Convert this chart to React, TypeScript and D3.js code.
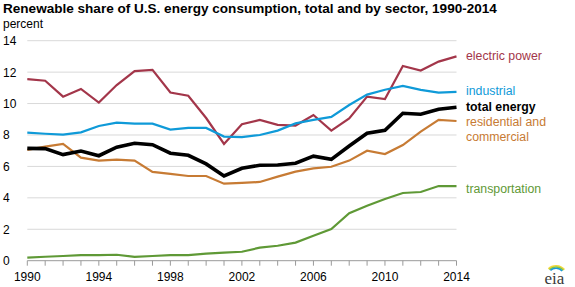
import React, { useEffect, useRef } from "react";
import * as d3 from "d3";

const WIDTH = 575;
const HEIGHT = 287;

const years = d3.range(1990, 2015);
const yTicks = [0, 2, 4, 6, 8, 10, 12, 14];
const xTickLabels = [1990, 1994, 1998, 2002, 2006, 2010, 2014];

const electricPower = [11.55, 11.45, 10.44, 10.93, 10.06, 11.18, 12.07, 12.14, 10.7, 10.5, 9.08, 7.43, 8.68, 8.96, 8.64, 8.6, 9.27, 8.28, 9.06, 10.44, 10.29, 12.39, 12.1, 12.67, 13.0];
const industrial = [8.15, 8.08, 8.02, 8.17, 8.57, 8.78, 8.72, 8.72, 8.34, 8.45, 8.45, 7.9, 7.87, 8.0, 8.28, 8.74, 8.96, 9.15, 9.91, 10.57, 10.88, 11.12, 10.87, 10.7, 10.74];
const totalEnergy = [7.15, 7.13, 6.75, 6.98, 6.68, 7.22, 7.47, 7.38, 6.84, 6.71, 6.16, 5.39, 5.88, 6.07, 6.09, 6.2, 6.65, 6.45, 7.3, 8.11, 8.3, 9.38, 9.32, 9.64, 9.76];
const residential = [7.05, 7.26, 7.43, 6.56, 6.37, 6.43, 6.37, 5.65, 5.52, 5.39, 5.39, 4.9, 4.95, 5.01, 5.35, 5.67, 5.88, 5.98, 6.37, 7.0, 6.79, 7.36, 8.21, 8.96, 8.89];
const transportation = [0.2, 0.25, 0.3, 0.36, 0.36, 0.38, 0.24, 0.3, 0.36, 0.36, 0.45, 0.51, 0.57, 0.83, 0.95, 1.15, 1.59, 2.02, 3.02, 3.5, 3.93, 4.31, 4.37, 4.75, 4.75];

const series = [
  { name: "electric power", values: electricPower, color: "#a3364a", width: 2.2 },
  { name: "industrial", values: industrial, color: "#0f9ad8", width: 2.2 },
  { name: "residential", values: residential, color: "#c77b34", width: 2.2 },
  { name: "transportation", values: transportation, color: "#5f9936", width: 2.2 },
  { name: "total energy", values: totalEnergy, color: "#000000", width: 3.6 },
];

const labels = [
  { lines: ["electric power"], y: 55, color: "#a3364a", bold: false },
  { lines: ["industrial"], y: 90, color: "#0f9ad8", bold: false },
  { lines: ["total energy"], y: 106, color: "#000000", bold: true },
  { lines: ["residential and", "commercial"], y: 121, color: "#c77b34", bold: false },
  { lines: ["transportation"], y: 188, color: "#5f9936", bold: false },
];

const FONT = "'Liberation Sans', Arial, sans-serif";

export default function App() {
  const ref = useRef<SVGSVGElement>(null);

  useEffect(() => {
    const svg = d3.select(ref.current);
    svg.selectAll("*").remove();

    const x = d3.scaleLinear().domain([1990, 2014]).range([27.3, 456.5]);
    const y = d3.scaleLinear().domain([0, 14]).range([260.7, 40.7]);

    svg.append("text")
      .attr("x", 3).attr("y", 13)
      .attr("font-family", FONT).attr("font-size", 13.55).attr("font-weight", "bold")
      .attr("fill", "#000")
      .text("Renewable share of U.S. energy consumption, total and by sector, 1990-2014");

    svg.append("text")
      .attr("x", 3).attr("y", 28)
      .attr("font-family", FONT).attr("font-size", 12).attr("fill", "#000")
      .text("percent");

    // gridlines
    svg.append("g").selectAll("line")
      .data(yTicks.filter((d) => d > 0))
      .join("line")
      .attr("x1", x(1990)).attr("x2", x(2014))
      .attr("y1", (d) => y(d)).attr("y2", (d) => y(d))
      .attr("stroke", "#d9d9d9").attr("stroke-width", 1);

    svg.append("g").selectAll("text")
      .data(yTicks)
      .join("text")
      .attr("x", 3).attr("y", (d) => y(d) + 4.5)
      .attr("font-family", FONT).attr("font-size", 12).attr("fill", "#000")
      .text((d) => d);

    // x axis
    const ax = svg.append("g");
    ax.append("line")
      .attr("x1", x(1990)).attr("x2", x(2014))
      .attr("y1", y(0)).attr("y2", y(0))
      .attr("stroke", "#9a9a9a").attr("stroke-width", 1);
    ax.selectAll("line.tick")
      .data(years)
      .join("line")
      .attr("class", "tick")
      .attr("x1", (d) => x(d)).attr("x2", (d) => x(d))
      .attr("y1", y(0)).attr("y2", y(0) + 5)
      .attr("stroke", "#9a9a9a").attr("stroke-width", 1);
    ax.selectAll("text")
      .data(xTickLabels)
      .join("text")
      .attr("x", (d) => x(d)).attr("y", 281)
      .attr("text-anchor", "middle")
      .attr("font-family", FONT).attr("font-size", 12).attr("fill", "#000")
      .text((d) => d);

    const line = d3.line<number>()
      .x((_, i) => x(years[i]))
      .y((d) => y(d));

    svg.append("g").selectAll("path")
      .data(series)
      .join("path")
      .attr("d", (d) => line(d.values))
      .attr("fill", "none")
      .attr("stroke", (d) => d.color)
      .attr("stroke-width", (d) => d.width)
      .attr("stroke-linejoin", "miter");

    const lg = svg.append("g");
    labels.forEach((l) => {
      const t = lg.append("text")
        .attr("x", 466).attr("y", l.y + 4.5)
        .attr("font-family", FONT).attr("font-size", 12.3)
        .attr("font-weight", l.bold ? "bold" : "normal")
        .attr("fill", l.color);
      l.lines.forEach((s, i) => {
        t.append("tspan").attr("x", 466).attr("dy", i === 0 ? 0 : 15).text(s);
      });
    });

    // eia logo
    const logo = svg.append("g");
    const arc = (r: number) => d3.arc()({ innerRadius: r - 1.6, outerRadius: r, startAngle: -0.75, endAngle: 0.85 }) as string;
    [["#f5d93a", 12], ["#8dc63f", 10.5], ["#1a9ad8", 9]].forEach(([c, r]) => {
      logo.append("path")
        .attr("d", arc(r as number))
        .attr("transform", `translate(556,${277 - (12 - (r as number)) * 0.2})`)
        .attr("fill", c as string);
    });
    logo.append("text")
      .attr("x", 544.5).attr("y", 284)
      .attr("font-family", "'Liberation Serif', serif").attr("font-size", 17)
      .attr("fill", "#3a3a3a")
      .text("eia");
  }, []);

  return (
    <svg
      ref={ref}
      width={WIDTH}
      height={HEIGHT}
      style={{ position: "absolute", left: 0, top: 0, background: "#fff" }}
    />
  );
}
